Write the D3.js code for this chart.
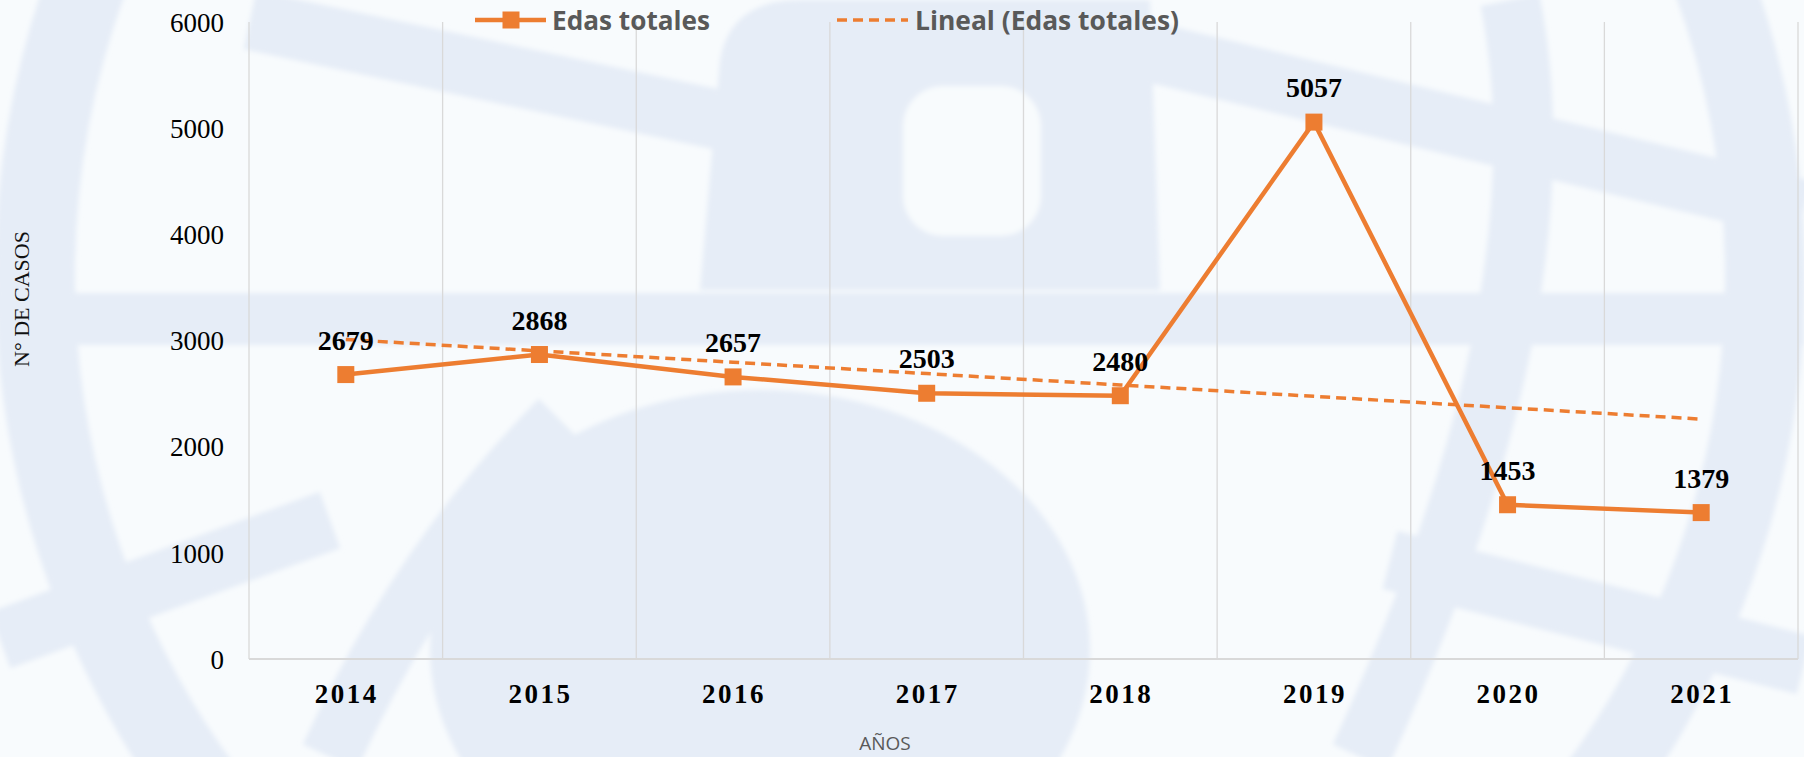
<!DOCTYPE html>
<html>
<head>
<meta charset="utf-8">
<script src="https://cdn.jsdelivr.net/npm/d3@7"></script>
<style>
  html, body { margin: 0; padding: 0; background: #f8fbfd; overflow: hidden; }
  svg { display: block; }
</style>
</head>
<body>
<svg id="chart" width="1804" height="757"></svg>
<script>
// Annual EDA case counts
const years = ["2014", "2015", "2016", "2017", "2018", "2019", "2020", "2021"];
const casos = [2679, 2868, 2657, 2503, 2480, 5057, 1453, 1379];
const yTicks = [0, 1000, 2000, 3000, 4000, 5000, 6000];
const seriesName = "Edas totales";
const trendName = "Lineal (Edas totales)";
const yTitle = "N° DE CASOS";
const xTitle = "AÑOS";

const W = 1804, H = 757;
const margin = { left: 249, right: 6, top: 22, bottom: 98 };
const orange = "#ed7d31";
const grid = "#d9d9d9";
const wash = "#e6edf7";

const svg = d3.select("#chart");

// soft edges for the background emblem
const defs = svg.append("defs");
defs.append("filter").attr("id", "soft")
  .attr("x", "-5%").attr("y", "-5%").attr("width", "110%").attr("height", "110%")
  .append("feGaussianBlur").attr("stdDeviation", 2.5);

// ---- faint globe emblem behind the chart ----
svg.append("rect").attr("width", W).attr("height", H).attr("fill", "#f8fbfd");
const wm = svg.append("g").attr("class", "watermark").attr("filter", "url(#soft)");
// central filled areas
wm.append("path")
  .attr("d", "M700,290 L720,60 Q730,0 800,0 L1150,0 L1160,290 Z")
  .attr("fill", wash);
wm.append("rect").attr("x", 903).attr("y", 86).attr("width", 138).attr("height", 150)
  .attr("rx", 40).attr("fill", "#f8fbfd");
wm.append("ellipse").attr("cx", 760).attr("cy", 650).attr("rx", 330).attr("ry", 260)
  .attr("fill", wash);
// horizontal band
wm.append("rect").attr("x", 0).attr("y", 293).attr("width", W).attr("height", 52).attr("fill", wash);
// outer ring
wm.append("circle").attr("cx", 900).attr("cy", 277).attr("r", 865)
  .attr("fill", "none").attr("stroke", wash).attr("stroke-width", 80);
// sloping bands
const bands = [
  "M250,20 L720,120",
  "M1100,40 L1804,210",
  "M1390,560 L1804,665",
  "M1510,0 Q1570,300 1360,757",
  "M330,757 Q420,560 560,420",
  "M0,640 L330,520"
];
bands.forEach(d => wm.append("path").attr("d", d).attr("fill", "none")
  .attr("stroke", wash).attr("stroke-width", 60).attr("stroke-linecap", "butt"));

// ---- scales ----
const x = d3.scaleBand().domain(years).range([margin.left, W - margin.right]).padding(0);
const y = d3.scaleLinear().domain([0, 6000]).range([H - margin.bottom, margin.top]);
const cx = d => x(d) + x.bandwidth() / 2;

// vertical category separators
const g = svg.append("g");
const seps = years.map(d => x(d)).concat([x.range()[1]]);
g.selectAll("line.sep").data(seps).join("line")
  .attr("class", "sep")
  .attr("x1", d => d).attr("x2", d => d)
  .attr("y1", y(6000)).attr("y2", y(0))
  .attr("stroke", grid).attr("stroke-width", 1.3);

// x axis baseline
g.append("line")
  .attr("x1", x.range()[0]).attr("x2", x.range()[1])
  .attr("y1", y(0)).attr("y2", y(0))
  .attr("stroke", grid).attr("stroke-width", 2);

// y tick labels
const yAxis = d3.axisLeft(y).tickValues(yTicks).tickSize(0).tickPadding(0).tickFormat(d3.format("d"));
const ya = svg.append("g").attr("transform", "translate(224,0)").call(yAxis);
ya.select(".domain").remove();
ya.selectAll("text")
  .attr("font-family", "'Liberation Serif', 'Times New Roman', serif")
  .attr("font-size", 27).attr("fill", "#000").attr("dy", "0.34em");

// x tick labels
const xAxis = d3.axisBottom(x).tickSize(0).tickPadding(0);
const xa = svg.append("g").attr("transform", `translate(0,${y(0)})`).call(xAxis);
xa.select(".domain").remove();
xa.selectAll("text")
  .attr("font-family", "'Liberation Serif', 'Times New Roman', serif")
  .attr("font-size", 27).attr("font-weight", "bold").attr("fill", "#000")
  .attr("letter-spacing", "2.5px")
  .attr("dy", null).attr("y", 44).attr("dx", "1px");

// axis titles
svg.append("text")
  .attr("transform", "translate(29,299) rotate(-90)")
  .attr("text-anchor", "middle")
  .attr("font-family", "'Liberation Serif', 'Times New Roman', serif")
  .attr("font-size", 22).attr("fill", "#111")
  .text(yTitle);
svg.append("text")
  .attr("x", 885).attr("y", 750).attr("text-anchor", "middle")
  .attr("font-family", "'Open Sans', 'Noto Sans', sans-serif")
  .attr("font-size", 19).attr("fill", "#595959")
  .text(xTitle);

// ---- linear trend (least squares over the series) ----
const n = casos.length;
const xs = d3.range(n);
const mx = d3.mean(xs), my = d3.mean(casos);
const slope = d3.sum(xs, i => (i - mx) * (casos[i] - my)) / d3.sum(xs, i => (i - mx) ** 2);
const intercept = my - slope * mx;
const trend = xs.map(i => intercept + slope * i);

svg.append("path")
  .datum(trend)
  .attr("d", d3.line().x((d, i) => cx(years[i])).y(d => y(d)))
  .attr("fill", "none").attr("stroke", orange).attr("stroke-width", 3.5)
  .attr("stroke-dasharray", "10,6");

// ---- series line and markers ----
svg.append("path")
  .datum(casos)
  .attr("d", d3.line().x((d, i) => cx(years[i])).y(d => y(d)))
  .attr("fill", "none").attr("stroke", orange).attr("stroke-width", 4.5)
  .attr("stroke-linejoin", "round");

const ms = 17;
svg.selectAll("rect.mk").data(casos).join("rect")
  .attr("class", "mk")
  .attr("x", (d, i) => cx(years[i]) - ms / 2)
  .attr("y", d => y(d) - ms / 2)
  .attr("width", ms).attr("height", ms)
  .attr("fill", orange);

// value labels
svg.selectAll("text.val").data(casos).join("text")
  .attr("class", "val")
  .attr("x", (d, i) => cx(years[i]))
  .attr("y", d => y(d) - 25)
  .attr("text-anchor", "middle")
  .attr("font-family", "'Liberation Serif', 'Times New Roman', serif")
  .attr("font-size", 28).attr("font-weight", "bold").attr("fill", "#000")
  .text(d => d);

// ---- legend ----
const lg = svg.append("g");
const ly = 20;
lg.append("line").attr("x1", 475).attr("x2", 546).attr("y1", ly).attr("y2", ly)
  .attr("stroke", orange).attr("stroke-width", 4.5);
lg.append("rect").attr("x", 511 - ms / 2).attr("y", ly - ms / 2).attr("width", ms).attr("height", ms)
  .attr("fill", orange);
lg.append("text").attr("x", 552).attr("y", ly + 10)
  .attr("font-family", "'Open Sans', 'Noto Sans', sans-serif")
  .attr("font-size", 27).attr("font-weight", "bold").attr("fill", "#595959")
  .attr("textLength", 158).attr("lengthAdjust", "spacingAndGlyphs")
  .text(seriesName);
lg.append("line").attr("x1", 837).attr("x2", 908).attr("y1", ly).attr("y2", ly)
  .attr("stroke", orange).attr("stroke-width", 3.5).attr("stroke-dasharray", "10,6");
lg.append("text").attr("x", 915).attr("y", ly + 10)
  .attr("font-family", "'Open Sans', 'Noto Sans', sans-serif")
  .attr("font-size", 27).attr("font-weight", "bold").attr("fill", "#595959")
  .attr("textLength", 264).attr("lengthAdjust", "spacingAndGlyphs")
  .text(trendName);
</script>
</body>
</html>
